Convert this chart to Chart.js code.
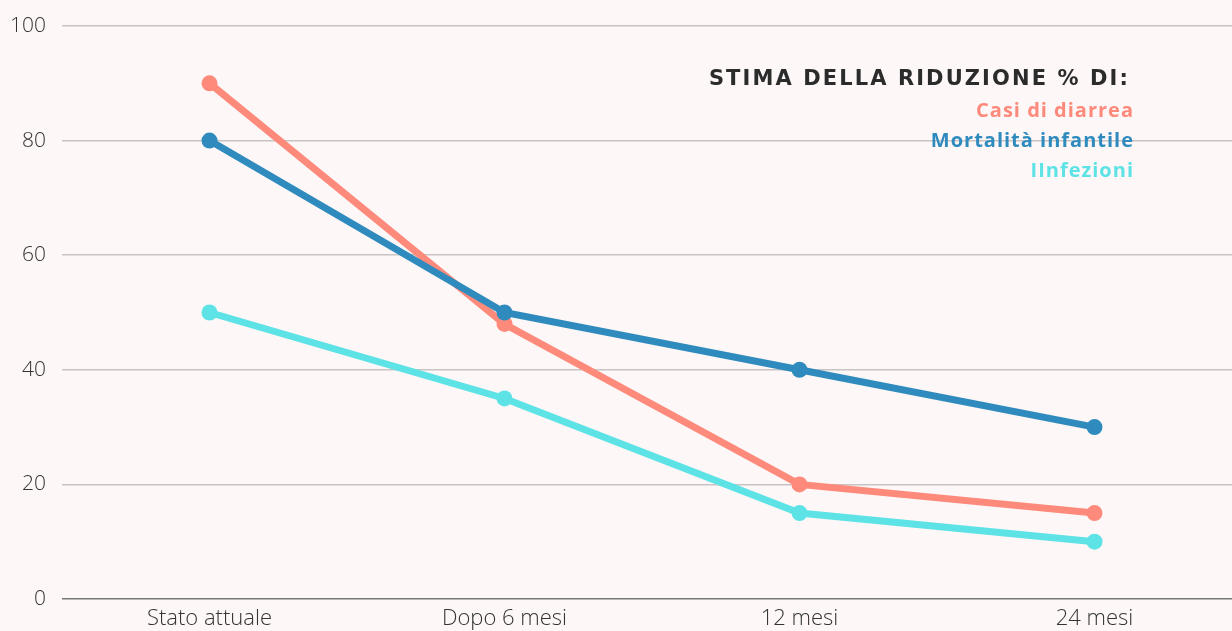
<!DOCTYPE html>
<html>
<head>
<meta charset="utf-8">
<script src="https://cdn.jsdelivr.net/npm/chart.js@4.4.0/dist/chart.umd.min.js"></script>
<style>
    html, body { margin: 0; padding: 0; background: #fdf7f7; }
    #wrap { width: 1232px; height: 631px; position: relative; }
</style>
</head>
<body>
<div id="wrap"><canvas id="riduzioneChart"></canvas></div>
<script>
const categorie = ['Stato attuale', 'Dopo 6 mesi', '12 mesi', '24 mesi'];
const casiDiarrea = [90, 48, 20, 15];
const mortalitaInfantile = [80, 50, 40, 30];
const infezioni = [50, 35, 15, 10];
const yTicks = [0, 20, 40, 60, 80, 100];

const legendaTitolo = 'STIMA DELLA RIDUZIONE % DI:';
const legendaVoci = [
    { text: 'Casi di diarrea', color: '#fe8a7b' },
    { text: 'Mortalità infantile', color: '#2f8bbd' },
    { text: 'IInfezioni', color: '#5de2e6' }
];

const toPoints = (arr) => arr.map((v, i) => ({ x: i, y: v }));

const legendaPlugin = {
    id: 'legenda',
    afterDraw(chart) {
        const ctx = chart.ctx;
        ctx.save();
        ctx.textAlign = 'right';
        ctx.textBaseline = 'middle';
        ctx.fillStyle = '#2b2b2b';
        ctx.font = 'bold 21px "DejaVu Sans"';
        ctx.letterSpacing = '2.1px';
        ctx.fillText(legendaTitolo, 1130, 80);
        ctx.letterSpacing = '1px';
        ctx.font = 'bold 20px "Open Sans"';
        legendaVoci.forEach((v, i) => {
            ctx.fillStyle = v.color;
            ctx.fillText(v.text, 1134, 111 + i * 30);
        });
        ctx.restore();
    }
};

const serie = (label, data, color, order) => ({
    label,
    data: toPoints(data),
    borderColor: color,
    backgroundColor: color,
    borderWidth: 7,
    pointRadius: 8,
    pointHoverRadius: 8,
    pointBorderWidth: 0,
    tension: 0,
    order
});

new Chart(document.getElementById('riduzioneChart'), {
    type: 'line',
    data: {
        datasets: [
            serie('Casi di diarrea', casiDiarrea, '#fe8a7b', 1),
            serie('Mortalità infantile', mortalitaInfantile, '#2f8bbd', 0),
            serie('IInfezioni', infezioni, '#5de2e6', 2)
        ]
    },
    options: {
        responsive: true,
        maintainAspectRatio: false,
        animation: false,
        layout: { autoPadding: false, padding: { top: 26, right: 0, left: 0, bottom: 0 } },
        plugins: {
            legend: { display: false },
            tooltip: { enabled: false }
        },
        scales: {
            x: {
                type: 'linear',
                min: -0.5,
                max: 3.466,
                afterBuildTicks: (s) => { s.ticks = categorie.map((c, i) => ({ value: i })); },
                afterFit: (s) => {
                    s.height = 32;
                    s.paddingLeft = 0;
                    s.paddingRight = 0;
                },
                grid: { display: false, drawTicks: false },
                border: { display: false },
                ticks: {
                    padding: 7,
                    color: '#333',
                    font: { family: '"Open Sans"', size: 22, weight: '300' },
                    callback: (v) => categorie[v]
                }
            },
            y: {
                min: 0,
                max: 100,
                afterBuildTicks: (s) => { s.ticks = yTicks.map(v => ({ value: v })); },
                afterFit: (s) => {
                    s.width = 62;
                    s.paddingTop = 0;
                    s.paddingBottom = 0;
                },
                grid: {
                    drawTicks: false,
                    lineWidth: 1.5,
                    color: (c) => c.tick && c.tick.value === 0 ? '#777' : '#c9c4c4'
                },
                border: { display: false },
                ticks: {
                    padding: 16,
                    color: '#333',
                    font: { family: '"Open Sans"', size: 21, weight: '300' }
                }
            }
        }
    },
    plugins: [legendaPlugin]
});
</script>
</body>
</html>
